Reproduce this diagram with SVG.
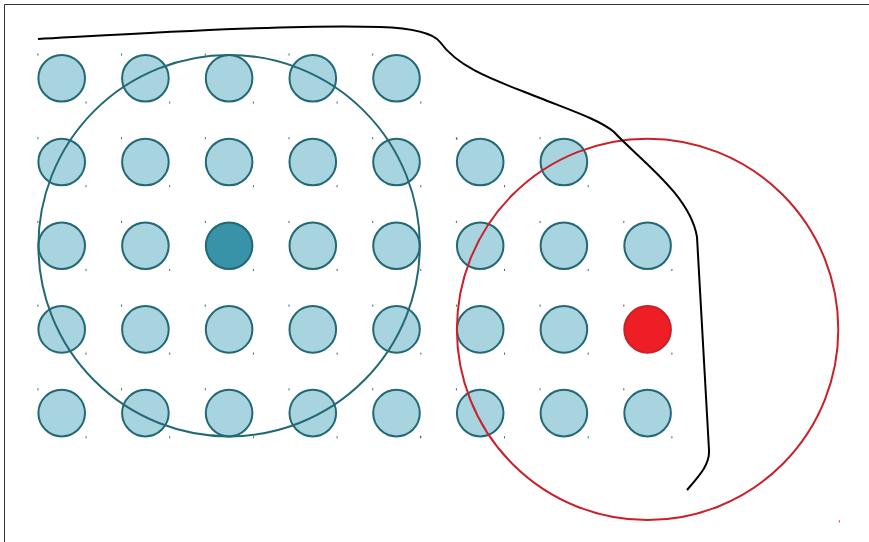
<svg xmlns="http://www.w3.org/2000/svg" width="869" height="542" viewBox="0 0 869 542">
<style>
.n{fill:#a8d4e0;stroke:#236875;stroke-width:2}
.d{fill:#3892a8;stroke:#236875;stroke-width:2}
.r{fill:#ee1f24;stroke:#c9202a;stroke-width:2}
.mt{fill:#236875}
.mr{fill:#c9202a}
.big{fill:none;stroke-width:2}
</style>
<rect x="0" y="0" width="869" height="542" fill="#ffffff"/>
<path d="M4.5,542 L4.5,4.5 L869,4.5" fill="none" stroke="#333333" stroke-width="1"/>
<defs>
<g id="mk"><rect x="-24.3" y="-24.8" width="1" height="2"/><rect x="23.8" y="23.2" width="1" height="2"/></g>
</defs>
<g id="nodes">
<g id="n0-0" transform="translate(61.7,78.3)"><circle class="n" r="23.3"/><use href="#mk" class="mt"/></g>
<g id="n0-1" transform="translate(145.4,78.3)"><circle class="n" r="23.3"/><use href="#mk" class="mt"/></g>
<g id="n0-2" transform="translate(229.1,78.3)"><circle class="n" r="23.3"/><use href="#mk" class="mt"/></g>
<g id="n0-3" transform="translate(312.8,78.3)"><circle class="n" r="23.3"/><use href="#mk" class="mt"/></g>
<g id="n0-4" transform="translate(396.5,78.3)"><circle class="n" r="23.3"/><use href="#mk" class="mt"/></g>

<g id="n1-0" transform="translate(61.7,162)"><circle class="n" r="23.3"/><use href="#mk" class="mt"/></g>
<g id="n1-1" transform="translate(145.4,162)"><circle class="n" r="23.3"/><use href="#mk" class="mt"/></g>
<g id="n1-2" transform="translate(229.1,162)"><circle class="n" r="23.3"/><use href="#mk" class="mt"/></g>
<g id="n1-3" transform="translate(312.8,162)"><circle class="n" r="23.3"/><use href="#mk" class="mt"/></g>
<g id="n1-4" transform="translate(396.5,162)"><circle class="n" r="23.3"/><use href="#mk" class="mt"/></g>
<g id="n1-5" transform="translate(480.2,162)"><circle class="n" r="23.3"/><use href="#mk" class="mt"/></g>
<g id="n1-6" transform="translate(563.9,162)"><circle class="n" r="23.3"/><use href="#mk" class="mt"/></g>

<g id="n2-0" transform="translate(61.7,245.7)"><circle class="n" r="23.3"/><use href="#mk" class="mt"/></g>
<g id="n2-1" transform="translate(145.4,245.7)"><circle class="n" r="23.3"/><use href="#mk" class="mt"/></g>
<g id="n2-2" transform="translate(229.1,245.7)"><circle class="d" r="23.3"/><use href="#mk" class="mt"/></g>
<g id="n2-3" transform="translate(312.8,245.7)"><circle class="n" r="23.3"/><use href="#mk" class="mt"/></g>
<g id="n2-4" transform="translate(396.5,245.7)"><circle class="n" r="23.3"/><use href="#mk" class="mt"/></g>
<g id="n2-5" transform="translate(480.2,245.7)"><circle class="n" r="23.3"/><use href="#mk" class="mt"/></g>
<g id="n2-6" transform="translate(563.9,245.7)"><circle class="n" r="23.3"/><use href="#mk" class="mt"/></g>
<g id="n2-7" transform="translate(647.6,245.7)"><circle class="n" r="23.3"/><use href="#mk" class="mt"/></g>

<g id="n3-0" transform="translate(61.7,329.4)"><circle class="n" r="23.3"/><use href="#mk" class="mt"/></g>
<g id="n3-1" transform="translate(145.4,329.4)"><circle class="n" r="23.3"/><use href="#mk" class="mt"/></g>
<g id="n3-2" transform="translate(229.1,329.4)"><circle class="n" r="23.3"/><use href="#mk" class="mt"/></g>
<g id="n3-3" transform="translate(312.8,329.4)"><circle class="n" r="23.3"/><use href="#mk" class="mt"/></g>
<g id="n3-4" transform="translate(396.5,329.4)"><circle class="n" r="23.3"/><use href="#mk" class="mt"/></g>
<g id="n3-5" transform="translate(480.2,329.4)"><circle class="n" r="23.3"/><use href="#mk" class="mt"/></g>
<g id="n3-6" transform="translate(563.9,329.4)"><circle class="n" r="23.3"/><use href="#mk" class="mt"/></g>
<g id="n3-7" transform="translate(647.6,329.4)"><circle class="r" r="23.3"/><use href="#mk" class="mr"/></g>

<g id="n4-0" transform="translate(61.7,413.1)"><circle class="n" r="23.3"/><use href="#mk" class="mt"/></g>
<g id="n4-1" transform="translate(145.4,413.1)"><circle class="n" r="23.3"/><use href="#mk" class="mt"/></g>
<g id="n4-2" transform="translate(229.1,413.1)"><circle class="n" r="23.3"/><use href="#mk" class="mt"/></g>
<g id="n4-3" transform="translate(312.8,413.1)"><circle class="n" r="23.3"/><use href="#mk" class="mt"/></g>
<g id="n4-4" transform="translate(396.5,413.1)"><circle class="n" r="23.3"/><use href="#mk" class="mt"/></g>
<g id="n4-5" transform="translate(480.2,413.1)"><circle class="n" r="23.3"/><use href="#mk" class="mt"/></g>
<g id="n4-6" transform="translate(563.9,413.1)"><circle class="n" r="23.3"/><use href="#mk" class="mt"/></g>
<g id="n4-7" transform="translate(647.6,413.1)"><circle class="n" r="23.3"/><use href="#mk" class="mt"/></g>

<g id="range-teal" transform="translate(229.1,245.7)"><circle class="big" r="190.7" stroke="#236875"/><rect x="190.8" y="190" width="1" height="2" class="mt"/></g>
<g id="range-red" transform="translate(647.6,329.4)"><circle class="big" r="190.7" stroke="#c9202a"/><rect x="-191.3" y="-191.5" width="1" height="2" class="mr"/><rect x="191.2" y="191" width="1" height="2" class="mr"/></g>
</g>
<g id="connectors">
<path d="M38,39 C150,33 300,24 380,27 C410,28 433,33 440,42 C460,70 500,82 540,98 C570,110 600,120 614,132 C640,160 690,195 697,237 L709,450 C710,464 700,475 687,490" fill="none" stroke="#000000" stroke-width="2"/>
</g>
</svg>
